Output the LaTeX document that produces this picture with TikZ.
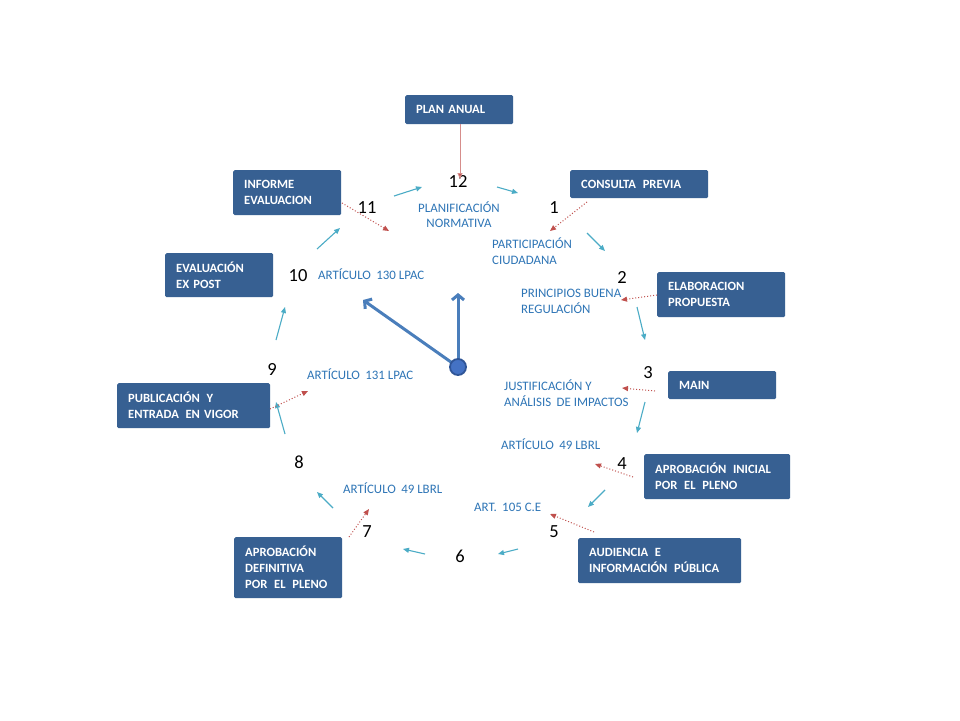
\documentclass[tikz,border=0pt]{standalone}
\usepackage{fontspec}
\setmainfont{Carlito}
\usetikzlibrary{arrows.meta}
\definecolor{boxblue}{HTML}{376092}
\definecolor{lblblue}{HTML}{2E75B6}
\definecolor{arrteal}{HTML}{4BACC6}
\definecolor{arrred}{HTML}{C0504D}
\definecolor{handblue}{HTML}{4A7EBB}
\definecolor{hubfill}{HTML}{4472C4}
\definecolor{hubline}{HTML}{2F5597}
\newcommand{\dsp}{\hspace{2.5pt}}
\begin{document}
\begin{tikzpicture}[x=1pt,y=-1pt,
 box/.style={fill=boxblue, text=white, font=\bfseries\fontsize{12.6}{16}\selectfont,
   anchor=north west, inner xsep=11pt, inner ysep=0pt, align=left, rounded corners=1.5pt},
 lbl/.style={text=lblblue, font=\fontsize{12.9}{16}\selectfont, inner sep=0pt, anchor=base west},
 lblc/.style={lbl, anchor=base},
 num/.style={font=\fontsize{18.5}{20}\selectfont, inner sep=0pt, anchor=base},
 flow/.style={draw=arrteal, line width=1.1pt, -{Triangle[length=6pt,width=5pt]}},
 link/.style={draw=arrred, line width=1pt, dotted, -{Triangle[length=6pt,width=5pt]}},
 hand/.style={draw=handblue, line width=3pt, line cap=round, -{Straight Barb[length=5pt,width=12pt]}}
]
\useasboundingbox[fill=white] (0,0) rectangle (960,720);

% boxes
\node[box, minimum width=108pt, text width=86pt, minimum height=29pt] (pa) at (405,95) {PLAN ANUAL};
\node[box, minimum width=108pt, text width=86pt, minimum height=45pt] (ie) at (233,170) {INFORME\\EVALUACION};
\node[box, minimum width=108pt, text width=86pt, minimum height=44pt] (ep) at (165,253) {EVALUACIÓN\\EX POST};
\node[box, minimum width=138pt, text width=116pt, minimum height=28pt] (cp) at (570,170) {CONSULTA\dsp{} PREVIA};
\node[box, minimum width=128pt, text width=106pt, minimum height=45pt] (el) at (657,272) {ELABORACION\\PROPUESTA};
\node[box, minimum width=108pt, text width=86pt, minimum height=28pt] (mn) at (668,371) {MAIN};
\node[box, minimum width=146pt, text width=124pt, minimum height=45pt] (ai) at (644,454) {APROBACIÓN\dsp{} INICIAL\\POR\dsp{} EL\dsp{} PLENO};
\node[box, minimum width=163pt, text width=141pt, minimum height=45pt] (au) at (578,538) {AUDIENCIA\dsp{} E\\INFORMACIÓN\dsp{} PÚBLICA};
\node[box, minimum width=153pt, text width=131pt, minimum height=45pt] (pu) at (117,383) {PUBLICACIÓN\dsp{} Y\\ENTRADA\dsp{} EN VIGOR};
\node[box, minimum width=108pt, text width=86pt, minimum height=61pt] (ad) at (234,537) {APROBACIÓN\\DEFINITIVA\\POR\dsp{} EL\dsp{} PLENO};

% numbers
\node[num] (n12) at (458,187) {12};
\node[num] (n1) at (554,213) {1};
\node[num] (n2) at (622,283) {2};
\node[num] (n3) at (648,378) {3};
\node[num] (n4) at (622,469) {4};
\node[num] (n5) at (554,537) {5};
\node[num] (n6) at (460,562) {6};
\node[num] (n7) at (367,537) {7};
\node[num] (n8) at (299,468) {8};
\node[num] (n9) at (272,375) {9};
\node[num] (n10) at (298,281) {10};
\node[num] (n11) at (367,213) {11};

% labels
\node[lblc] (lplan1) at (459,212) {PLANIFICACIÓN};
\node[lblc] (lplan2) at (459,227) {NORMATIVA};
\node[lbl] (lpar1) at (492,248) {PARTICIPACIÓN};
\node[lbl] (lpar2) at (492,264) {CIUDADANA};
\node[lbl] (l130) at (318,279) {ARTÍCULO\dsp{} 130 LPAC};
\node[lbl] (lpri1) at (521,297) {PRINCIPIOS BUENA};
\node[lbl] (lpri2) at (521,313) {REGULACIÓN};
\node[lbl] (ljus1) at (504,390) {JUSTIFICACIÓN Y};
\node[lbl] (ljus2) at (504,406) {ANÁLISIS\dsp{} DE IMPACTOS};
\node[lbl] (l131) at (307,379) {ARTÍCULO\dsp{} 131 LPAC};
\node[lbl] (l49a) at (501,449) {ARTÍCULO\dsp{} 49 LBRL};
\node[lbl] (l105) at (474,511) {ART.\dsp{} 105 C.E};
\node[lbl] (l49b) at (343,493) {ARTÍCULO\dsp{} 49 LBRL};

% flow arrow endpoints
\coordinate (t1s) at (394,196); \coordinate (t1e) at (422,187);
\coordinate (t2s) at (497,187); \coordinate (t2e) at (518,193);
\coordinate (t3s) at (587,233); \coordinate (t3e) at (605,251);
\coordinate (t4s) at (637,307); \coordinate (t4e) at (645,340);
\coordinate (t5s) at (645,402); \coordinate (t5e) at (637,433);
\coordinate (t6s) at (605,490); \coordinate (t6e) at (588,507);
\coordinate (t7s) at (518,549); \coordinate (t7e) at (498,554);
\coordinate (t8s) at (425,554); \coordinate (t8e) at (403,549);
\coordinate (t9s) at (333,508); \coordinate (t9e) at (317,492);
\coordinate (t10s) at (285,434); \coordinate (t10e) at (276,402);
\coordinate (t11s) at (276,340); \coordinate (t11e) at (285,307);
\coordinate (t12s) at (317,249); \coordinate (t12e) at (340,228);
\foreach \i in {1,...,12} { \draw[flow] (t\i s) -- (t\i e); }

% red links
\coordinate (rpa) at (460,124); \coordinate (rpae) at (460,179);
\draw[draw=arrred!65, line width=0.9pt, -{Triangle[length=6pt,width=5pt,fill=arrred]}] (rpa) -- (rpae);
\coordinate (rie) at (342,203); \coordinate (riee) at (389,231);
\coordinate (rcp) at (587,202); \coordinate (rcpe) at (550,231);
\coordinate (rel) at (657,295); \coordinate (rele) at (621,300);
\coordinate (rmn) at (655,391); \coordinate (rmne) at (622,388);
\coordinate (rai) at (633,477); \coordinate (raie) at (595,464);
\coordinate (rau) at (594,532); \coordinate (raue) at (550,514);
\coordinate (rad) at (349,537); \coordinate (rade) at (369,509);
\coordinate (rpu) at (270,409); \coordinate (rpue) at (308,391);
\foreach \a in {ie,cp,el,mn,ai,au,ad,pu} { \draw[link] (r\a) -- (r\a e); }

% clock hands
\coordinate (c0) at (458,367);
\coordinate (hh) at (458,293);
\coordinate (mh) at (363,300);
\draw[hand] (c0) -- (hh);
\draw[hand] (c0) -- (mh);
\node[circle, fill=hubfill, draw=hubline, line width=1.8pt, minimum size=16pt, inner sep=0pt] (hub) at (c0) {};
\end{tikzpicture}
\end{document}
